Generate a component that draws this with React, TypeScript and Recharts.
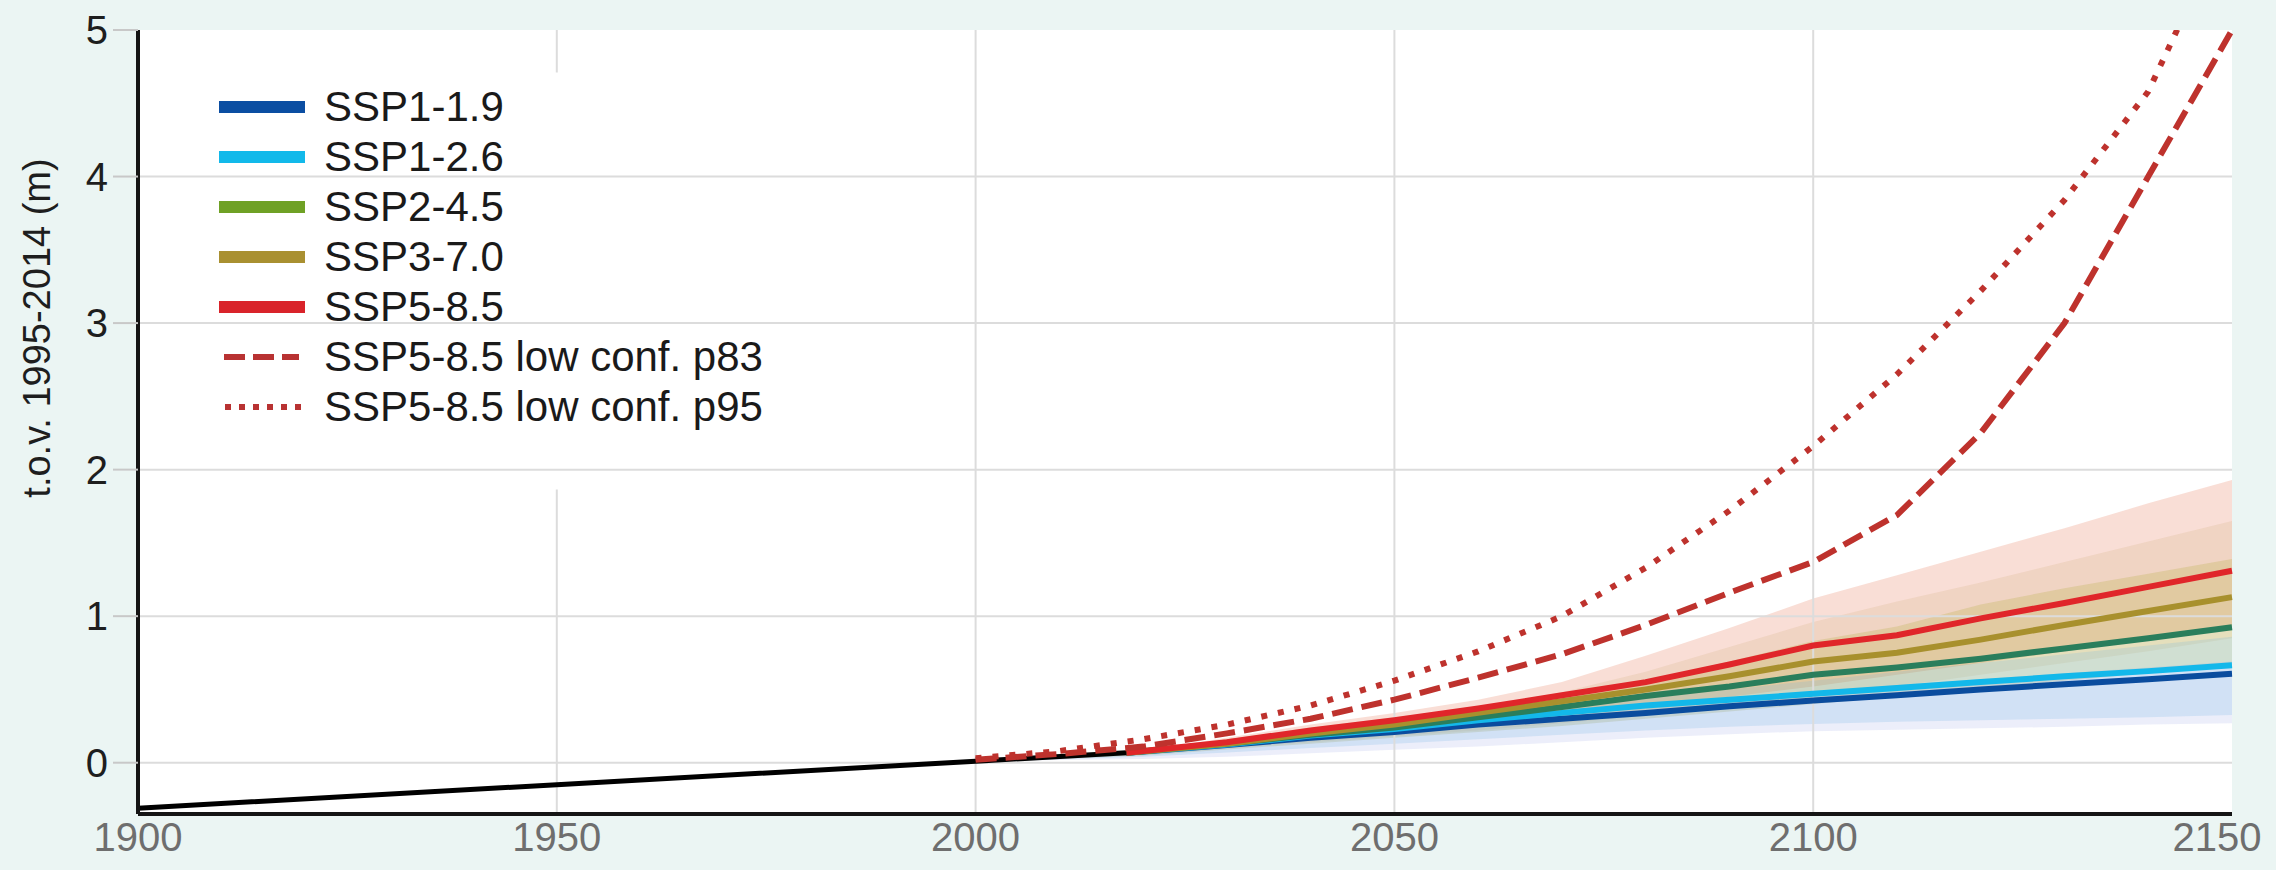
import React from 'react';
import { ComposedChart, Line, Area, XAxis, YAxis, CartesianGrid, ReferenceLine } from 'recharts';

// ---------- data ----------
const HIST_YEARS = [1900, 1950, 2000, 2018];
const HIST = [-0.31, -0.15, 0.01, 0.068];

const LINE_YEARS = [2018, 2030, 2040, 2050, 2060, 2070, 2080, 2090, 2100, 2110, 2120, 2130, 2140, 2150];
const SSP119 = [0.068, 0.12, 0.17, 0.21, 0.26, 0.3, 0.34, 0.385, 0.425, 0.46, 0.5, 0.535, 0.57, 0.607];
const SSP126 = [0.068, 0.125, 0.185, 0.23, 0.29, 0.34, 0.39, 0.43, 0.47, 0.51, 0.55, 0.59, 0.625, 0.665];
const SSP245 = [0.068, 0.13, 0.19, 0.24, 0.31, 0.38, 0.455, 0.52, 0.6, 0.65, 0.71, 0.78, 0.85, 0.925];
const SSP370 = [0.068, 0.13, 0.2, 0.26, 0.34, 0.42, 0.5, 0.59, 0.69, 0.75, 0.84, 0.94, 1.035, 1.13];
const SSP585 = [0.068, 0.14, 0.22, 0.29, 0.37, 0.46, 0.55, 0.67, 0.8, 0.87, 0.985, 1.09, 1.2, 1.31];

const LOWCONF_YEARS = [2000, 2010, 2020, 2030, 2040, 2050, 2060, 2070, 2080, 2090, 2100, 2110, 2120, 2130, 2140, 2150];
const P83 = [0.02, 0.06, 0.11, 0.2, 0.3, 0.43, 0.58, 0.74, 0.94, 1.16, 1.37, 1.69, 2.25, 3.0, 4.0, 5.0];
const P95 = [0.03, 0.08, 0.16, 0.26, 0.39, 0.56, 0.76, 1.0, 1.33, 1.72, 2.16, 2.65, 3.22, 3.84, 4.58, 5.8];

const BAND_YEARS = [2005, 2020, 2030, 2040, 2050, 2060, 2070, 2080, 2090, 2100, 2110, 2120, 2130, 2140, 2150];
const SSP585_HI = [0.015, 0.08, 0.17, 0.26, 0.34, 0.43, 0.55, 0.73, 0.92, 1.12, 1.28, 1.44, 1.6, 1.77, 1.93];
const SSP585_LO = [0.015, 0.06, 0.11, 0.16, 0.21, 0.26, 0.32, 0.38, 0.45, 0.52, 0.6, 0.68, 0.76, 0.84, 0.92];
const SSP370_HI = [0.015, 0.08, 0.16, 0.24, 0.31, 0.38, 0.48, 0.62, 0.79, 0.96, 1.1, 1.23, 1.37, 1.51, 1.65];
const SSP370_LO = [0.015, 0.055, 0.1, 0.14, 0.18, 0.22, 0.27, 0.32, 0.38, 0.45, 0.52, 0.6, 0.68, 0.76, 0.85];
const SSP245_HI = [0.015, 0.08, 0.16, 0.23, 0.29, 0.36, 0.45, 0.56, 0.69, 0.83, 0.93, 1.08, 1.19, 1.29, 1.39];
const SSP245_LO = [0.015, 0.05, 0.09, 0.13, 0.17, 0.21, 0.25, 0.3, 0.35, 0.4, 0.45, 0.5, 0.56, 0.61, 0.67];
const SSP126_HI = [0.015, 0.075, 0.14, 0.2, 0.26, 0.32, 0.38, 0.44, 0.5, 0.56, 0.62, 0.68, 0.74, 0.8, 0.86];
const SSP126_LO = [0.015, 0.04, 0.07, 0.1, 0.13, 0.16, 0.19, 0.22, 0.245, 0.265, 0.28, 0.29, 0.3, 0.31, 0.325];
const SSP119_HI = [0.015, 0.07, 0.13, 0.18, 0.23, 0.28, 0.33, 0.38, 0.43, 0.48, 0.53, 0.57, 0.61, 0.65, 0.69];
const SSP119_LO = [0.015, 0.025, 0.04, 0.065, 0.088, 0.11, 0.14, 0.17, 0.195, 0.215, 0.225, 0.235, 0.245, 0.26, 0.27];

const X_TICKS = [1900, 1950, 2000, 2050, 2100, 2150];
const Y_TICKS = [0, 1, 2, 3, 4, 5];
const GRID_Y = [0, 1, 2, 3, 4];
const GRID_X = [2000, 2050, 2100];

const Y_LABEL = 't.o.v. 1995-2014 (m)';
const P83_NAME = 'SSP5-8.5 low conf. p83';
const P95_NAME = 'SSP5-8.5 low conf. p95';

const SCENARIOS = [
  { key: 'ssp585', name: 'SSP5-8.5', line: '#E0262A', legend: '#D9232A', band: '#E15A32', bandOpacity: 0.2, values: SSP585, lo: SSP585_LO, hi: SSP585_HI },
  { key: 'ssp370', name: 'SSP3-7.0', line: '#A8902D', legend: '#A99031', band: '#B48C3C', bandOpacity: 0.12, values: SSP370, lo: SSP370_LO, hi: SSP370_HI },
  { key: 'ssp245', name: 'SSP2-4.5', line: '#2A7E5C', legend: '#6FA125', band: '#B4AA3C', bandOpacity: 0.25, values: SSP245, lo: SSP245_LO, hi: SSP245_HI },
  { key: 'ssp126', name: 'SSP1-2.6', line: '#13B8EA', legend: '#12B9EA', band: '#64B4E6', bandOpacity: 0.2, values: SSP126, lo: SSP126_LO, hi: SSP126_HI },
  { key: 'ssp119', name: 'SSP1-1.9', line: '#0A4C9E', legend: '#0B4EA2', band: '#7A84DC', bandOpacity: 0.14, values: SSP119, lo: SSP119_LO, hi: SSP119_HI },
];

const LOWCONF_COLOR = '#BE322D';
const LOWCONF_LEGEND = '#B83232';

// ---------- table ----------
const ALL_YEARS = Array.from(new Set([...HIST_YEARS, ...LINE_YEARS, ...LOWCONF_YEARS, ...BAND_YEARS])).sort((a, b) => a - b);
const DATA = ALL_YEARS.map((year) => {
  const row: any = { year };
  const h = HIST_YEARS.indexOf(year);
  if (h >= 0) row.hist = HIST[h];
  const l = LOWCONF_YEARS.indexOf(year);
  if (l >= 0) {
    row.p83 = P83[l];
    row.p95 = P95[l];
  }
  const li = LINE_YEARS.indexOf(year);
  const bi = BAND_YEARS.indexOf(year);
  SCENARIOS.forEach((s) => {
    if (li >= 0) row[s.key] = s.values[li];
    if (bi >= 0) row[s.key + '_band'] = [s.lo[bi], s.hi[bi]];
  });
  return row;
});

// ---------- styling ----------
const FONT = '"Liberation Sans", Arial, Helvetica, sans-serif';
const MINT = '#EBF5F3';
const GRID = '#DCDCDC';
const W = 2276;
const H = 870;

const XTick = (props: any) => {
  const { x, y, payload } = props;
  const shift = payload.value === X_TICKS[X_TICKS.length - 1] ? -15 : 0;
  return (
    <text x={x + shift} y={y} dy="0.71em" textAnchor="middle" fill="#6E6E6E" fontSize={40} fontFamily={FONT}>
      {payload.value}
    </text>
  );
};

const YTick = (props: any) => {
  const { x, y, payload } = props;
  return (
    <text x={x} y={y} dy="0.355em" textAnchor="end" fill="#1E1E1E" fontSize={40} fontFamily={FONT}>
      {payload.value}
    </text>
  );
};

const LegendRow = ({ color, kind, label }: { color: string; kind: string; label: string }) => (
  <div style={{ display: 'flex', alignItems: 'center', height: 50 }}>
    <svg width={86} height={50} style={{ display: 'block' }}>
      {kind === 'solid' && <line x1={0} x2={86} y1={25} y2={25} stroke={color} strokeWidth={12} />}
      {kind === 'dash' && <line x1={5} x2={80} y1={25} y2={25} stroke={color} strokeWidth={6} strokeDasharray="21 8" />}
      {kind === 'dot' && <line x1={6} x2={82} y1={25} y2={25} stroke={color} strokeWidth={6} strokeDasharray="6 8" />}
    </svg>
    <span style={{ marginLeft: 19, fontSize: 42, lineHeight: '50px', color: '#1A1A1A', fontFamily: FONT, whiteSpace: 'nowrap' }}>{label}</span>
  </div>
);

const LEGEND_ORDER = ['ssp119', 'ssp126', 'ssp245', 'ssp370', 'ssp585'];

export default function App() {
  return (
    <div style={{ position: 'absolute', left: 0, top: 0, width: W, height: H, background: MINT, fontFamily: FONT, overflow: 'hidden' }}>
      <ComposedChart width={W} height={H} data={DATA} margin={{ top: 30, right: 44, bottom: 0, left: 0 }}>
        <CartesianGrid fill="#FFFFFF" fillOpacity={1} horizontal={false} vertical={false} />
        {GRID_Y.map((v) => (
          <ReferenceLine key={'gy' + v} y={v} stroke={GRID} strokeWidth={2} />
        ))}
        {GRID_X.map((v) => (
          <ReferenceLine key={'gx' + v} x={v} stroke={GRID} strokeWidth={2} />
        ))}
        <ReferenceLine segment={[{ x: 1950, y: -0.35 }, { x: 1950, y: 1.865 }]} stroke={GRID} strokeWidth={2} />
        <ReferenceLine segment={[{ x: 1950, y: 4.71 }, { x: 1950, y: 5 }]} stroke={GRID} strokeWidth={2} />
        <XAxis
          dataKey="year"
          type="number"
          domain={[1900, 2150]}
          ticks={X_TICKS}
          height={56}
          axisLine={{ stroke: '#151515', strokeWidth: 4 }}
          tickLine={false}
          tickSize={6}
          tickMargin={3}
          tick={<XTick />}
          interval={0}
        />
        <YAxis
          type="number"
          domain={[-0.35, 5]}
          ticks={Y_TICKS}
          allowDataOverflow
          width={138}
          axisLine={{ stroke: '#151515', strokeWidth: 4 }}
          tickLine={{ stroke: '#C8C8C8', strokeWidth: 2 }}
          tickSize={25}
          tickMargin={5}
          tick={<YTick />}
          interval={0}
        />
        {SCENARIOS.map((s) => (
          <Area
            key={s.key + '_band'}
            dataKey={s.key + '_band'}
            type="linear"
            stroke="none"
            fill={s.band}
            fillOpacity={s.bandOpacity}
            connectNulls
            isAnimationActive={false}
            dot={false}
            activeDot={false}
          />
        ))}
        {[...SCENARIOS].reverse().map((s) => (
          <Line
            key={s.key}
            dataKey={s.key}
            type="linear"
            stroke={s.line}
            strokeWidth={6}
            dot={false}
            activeDot={false}
            connectNulls
            isAnimationActive={false}
          />
        ))}
        <Line dataKey="hist" type="linear" stroke="#000000" strokeWidth={5} dot={false} activeDot={false} connectNulls isAnimationActive={false} />
        <Line dataKey="p83" type="linear" stroke={LOWCONF_COLOR} strokeWidth={6} strokeDasharray="21 9" dot={false} activeDot={false} connectNulls isAnimationActive={false} />
        <Line dataKey="p95" type="linear" stroke={LOWCONF_COLOR} strokeWidth={6} strokeDasharray="6 11" dot={false} activeDot={false} connectNulls isAnimationActive={false} />
      </ComposedChart>

      <svg width={138} height={H} style={{ position: 'absolute', left: 0, top: 0, pointerEvents: 'none' }}>
        <text x={50} y={328} transform="rotate(-90 50 328)" textAnchor="middle" fill="#1E1E1E" fontSize={38} fontFamily={FONT}>
          {Y_LABEL}
        </text>
      </svg>

      <div style={{ position: 'absolute', left: 219, top: 82, pointerEvents: 'none' }}>
        {LEGEND_ORDER.map((k) => {
          const s = SCENARIOS.find((x) => x.key === k)!;
          return <LegendRow key={k} color={s.legend} kind="solid" label={s.name} />;
        })}
        <LegendRow color={LOWCONF_LEGEND} kind="dash" label={P83_NAME} />
        <LegendRow color={LOWCONF_LEGEND} kind="dot" label={P95_NAME} />
      </div>
    </div>
  );
}
